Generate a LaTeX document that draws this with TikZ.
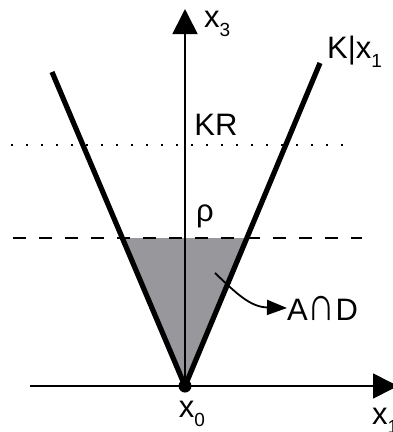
\documentclass[tikz,border=0pt]{standalone}
\usepackage{fontspec}
\setmainfont{Liberation Sans}
\usetikzlibrary{arrows.meta}
\definecolor{conegray}{RGB}{152,152,156}
\newcommand{\lowsub}[1]{\raisebox{-0.3em}{\fontsize{19}{19}\selectfont #1}}
\newcommand{\tallcap}{\scalebox{1.25}[1.55]{∩}}
\tikzset{
  axis/.style={line width=1.6pt, -{Triangle[length=25pt,width=25pt]}},
  coneline/.style={line width=5.2pt},
  lbl/.style={font=\fontsize{31}{33}\selectfont, inner sep=0pt},
  dotline/.style={line width=2pt, dash pattern=on 2pt off 13pt},
  dashline/.style={line width=2pt, dash pattern=on 13pt off 13pt},
  pointer/.style={line width=1.8pt, -{Triangle[length=20pt,width=15pt]}},
}
\begin{document}
\begin{tikzpicture}[x=1pt,y=-1pt]
\useasboundingbox (0,0) rectangle (392,432);
% key points
\coordinate (O) at (185,386);
\coordinate (Ltop) at (52,72);
\coordinate (Rtop) at (320,63);
\coordinate (Gl) at (122,238);
\coordinate (Gr) at (248,238);
\coordinate (Xstart) at (30,386);
\coordinate (Xend) at (398,386);
\coordinate (Ytop) at (185,9);
% gray region
\fill[conegray] (O) -- (Gl) -- (Gr) -- cycle;
% horizontal lines
\coordinate (dotL) at (11,145);
\coordinate (dotR) at (352,145);
\coordinate (dashL) at (13,238);
\coordinate (dashR) at (362,238);
\draw[dotline] (dotL) -- (dotR);
\draw[dashline] (dashL) -- (dashR);
% axes
\draw[axis] (O) -- (Ytop);
\draw[axis] (Xstart) -- (Xend);
% cone
\draw[coneline] (Ltop) -- (O) -- (Rtop);
\fill (O) circle (6.5pt);
% labels
\node[lbl, anchor=west] (x3) at (204,24) {x\lowsub{3}};
\node[lbl, anchor=west] (K) at (327,52) {K|x\lowsub{1}};
\node[lbl] (KR) at (216,125) {KR};
\node[lbl] (rho) at (205,216) {ρ};
\node[lbl, anchor=west] (aod) at (287,308) {A\tallcap D};
\node[lbl] (x0) at (192,414) {x\lowsub{0}};
\node[lbl, anchor=west] (x1) at (372,421) {x\lowsub{1}};
% pointer
\coordinate (s) at (215,273);
\draw[pointer] (s) .. controls (236,293) and (250,307) .. (aod.west);
\end{tikzpicture}
\end{document}
